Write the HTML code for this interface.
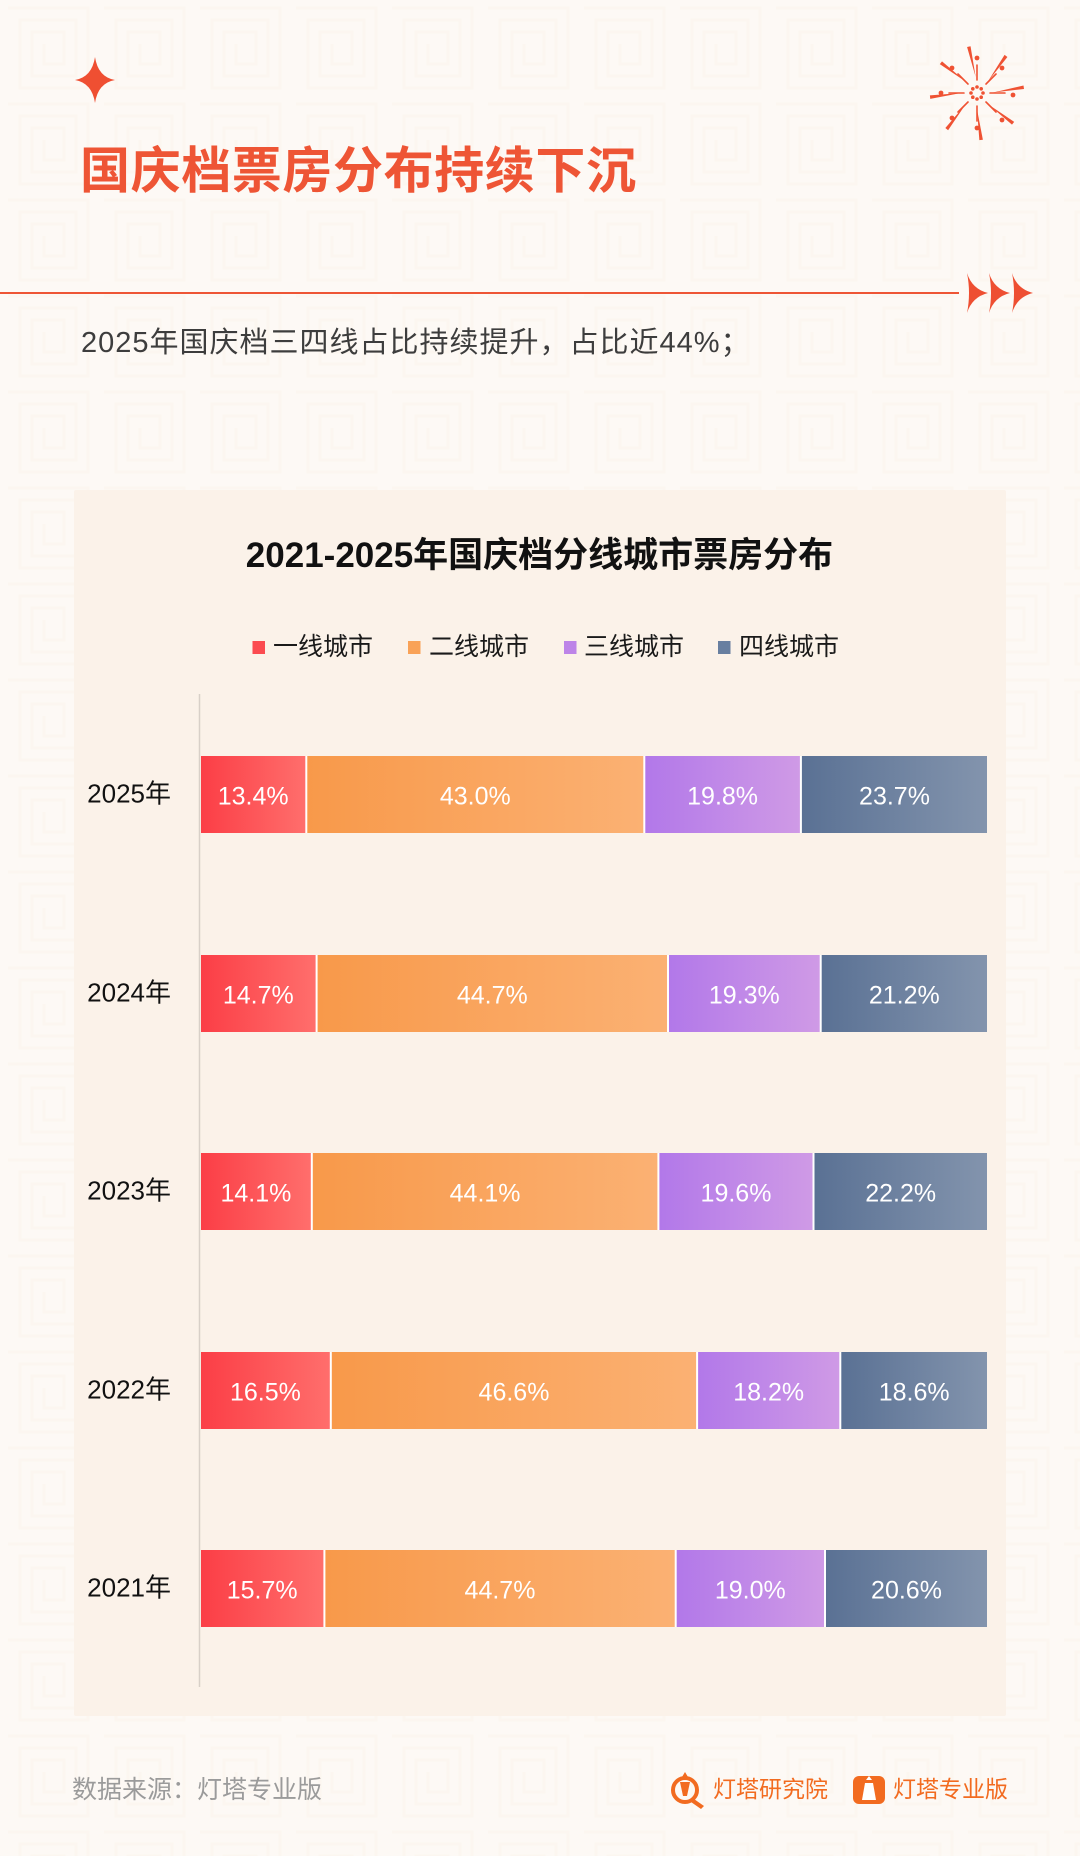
<!DOCTYPE html>
<html>
<head>
<meta charset="utf-8">
<style>
  html,body{margin:0;padding:0;background:#fdf9f5;}
  svg{display:block;}
  text{font-family:"Liberation Sans","Noto Sans CJK SC",sans-serif;}
</style>
</head>
<body>
<svg width="1080" height="1856" viewBox="0 0 1080 1856" xmlns="http://www.w3.org/2000/svg">
  <defs>
    <pattern id="fret" x="0" y="0" width="96" height="96" patternUnits="userSpaceOnUse">
      <path d="M8 8 H88 V88 H20 V20 H76 V76 H32 V32 H64 V64 H44 V44" fill="none" stroke="#fcf6f0" stroke-width="3"/>
    </pattern>
    <linearGradient id="gR" x1="0" x2="1" y1="0" y2="0"><stop offset="0" stop-color="#fb3e46"/><stop offset="1" stop-color="#ff6e6c"/></linearGradient>
    <linearGradient id="gO" x1="0" x2="1" y1="0" y2="0"><stop offset="0" stop-color="#f8994a"/><stop offset="1" stop-color="#fbb173"/></linearGradient>
    <linearGradient id="gP" x1="0" x2="1" y1="0" y2="0"><stop offset="0" stop-color="#b278e9"/><stop offset="1" stop-color="#cf9ae6"/></linearGradient>
    <linearGradient id="gS" x1="0" x2="1" y1="0" y2="0"><stop offset="0" stop-color="#5a7194"/><stop offset="1" stop-color="#8394ad"/></linearGradient>
  </defs>

  <!-- page background -->
  <rect width="1080" height="1856" fill="#fdf9f5"/>
  <rect width="1080" height="1856" fill="url(#fret)"/>

  <!-- sparkle star -->
  <path d="M95,57 Q98,77 115,80 Q98,83 95,103 Q92,83 75,80 Q92,77 95,57Z" fill="#ef4f32"/>

  <!-- fireworks -->
  <g transform="translate(977,93)" fill="#ef5233" stroke="#ef5233">
    <g stroke="none">
      <circle cx="0" cy="-6" r="1.8"/><circle cx="4.2" cy="-4.2" r="1.8"/><circle cx="6" cy="0" r="1.8"/><circle cx="4.2" cy="4.2" r="1.8"/>
      <circle cx="0" cy="6" r="1.8"/><circle cx="-4.2" cy="4.2" r="1.8"/><circle cx="-6" cy="0" r="1.8"/><circle cx="-4.2" cy="-4.2" r="1.8"/>
    </g>
    <g stroke-width="1.6" stroke-linecap="round">
      <line x1="0" y1="-13" x2="0" y2="-28"/>
      <line x1="13" y1="0" x2="28" y2="0"/>
      <line x1="0" y1="13" x2="0" y2="28"/>
      <line x1="-13" y1="0" x2="-28" y2="0"/>
      <line x1="9" y1="-9" x2="19" y2="-19"/>
      <line x1="9" y1="9" x2="19" y2="19"/>
      <line x1="-9" y1="9" x2="-19" y2="19"/>
      <line x1="-9" y1="-9" x2="-19" y2="-19"/>
    </g>
    <g stroke="none">
      <path d="M-0.5,-16 L-4,-47 L-7.5,-46.5 Z" transform="rotate(-3)"/>
      <path d="M-0.5,-16 L-4,-47 L-7.5,-46.5 Z" transform="rotate(45)"/>
      <path d="M-0.5,-16 L-4,-47 L-7.5,-46.5 Z" transform="rotate(90)"/>
      <path d="M-0.5,-16 L-4,-47 L-7.5,-46.5 Z" transform="rotate(137)"/>
      <path d="M-0.5,-16 L-4,-47 L-7.5,-46.5 Z" transform="rotate(182)"/>
      <path d="M-0.5,-16 L-4,-47 L-7.5,-46.5 Z" transform="rotate(227)"/>
      <path d="M-0.5,-16 L-4,-47 L-7.5,-46.5 Z" transform="rotate(272)"/>
      <path d="M-0.5,-16 L-4,-47 L-7.5,-46.5 Z" transform="rotate(317)"/>
      <circle cx="0" cy="-35" r="2.4"/>
      <circle cx="25" cy="-25" r="2.4"/>
      <circle cx="36" cy="2" r="2.4"/>
      <circle cx="25" cy="27" r="2.4"/>
      <circle cx="0" cy="35" r="2.4"/>
      <circle cx="-25" cy="25" r="2.4"/>
      <circle cx="-36" cy="0" r="2.4"/>
      <circle cx="-25" cy="-25" r="2.4"/>
    </g>
  </g>

  <!-- title -->
  <text x="80" y="188" font-size="50" font-weight="700" fill="#ee5535" letter-spacing="0.6">国庆档票房分布持续下沉</text>

  <!-- divider line + arrows -->
  <line x1="0" y1="293" x2="959" y2="293" stroke="#ee5535" stroke-width="2"/>
  <g fill="#ee4f32">
    <path d="M967,273 Q972,289 988,293 Q972,297 967,313 Q971,293 967,273Z"/>
    <path d="M989,273 Q994,289 1010,293 Q994,297 989,313 Q993,293 989,273Z"/>
    <path d="M1012,273 Q1017,289 1033,293 Q1017,297 1012,313 Q1016,293 1012,273Z"/>
  </g>

  <!-- subtitle -->
  <text x="81" y="352" font-size="29" fill="#3d3d3d" letter-spacing="1">2025年国庆档三四线占比持续提升，占比近44%；</text>

  <!-- chart panel -->
  <rect x="74" y="490" width="932" height="1226" rx="2" fill="#fbf2e9"/>

  <text x="539.5" y="567" font-size="35" font-weight="700" fill="#111" text-anchor="middle">2021-2025年国庆档分线城市票房分布</text>

  <!-- legend -->
  <rect x="252.5" y="641" width="12.5" height="13" fill="#fb4b50"/>
  <text x="273" y="655" font-size="25" fill="#1a1a1a">一线城市</text>
  <rect x="408" y="641" width="12.5" height="13" fill="#f9a257"/>
  <text x="429" y="655" font-size="25" fill="#1a1a1a">二线城市</text>
  <rect x="564" y="641" width="12.5" height="13" fill="#bd84e8"/>
  <text x="584" y="655" font-size="25" fill="#1a1a1a">三线城市</text>
  <rect x="718" y="641" width="12.5" height="13" fill="#687fa0"/>
  <text x="739" y="655" font-size="25" fill="#1a1a1a">四线城市</text>

  <!-- axis -->
  <line x1="199.5" y1="694" x2="199.5" y2="1687" stroke="#d8d0c8" stroke-width="1.5"/>

  <!-- 2025 -->
  <g>
    <rect x="201" y="756" width="786" height="77" fill="#ffffff"/>
    <rect x="201" y="756" width="104.3" height="77" fill="url(#gR)"/>
    <rect x="307.3" y="756" width="336" height="77" fill="url(#gO)"/>
    <rect x="645.3" y="756" width="154.6" height="77" fill="url(#gP)"/>
    <rect x="801.9" y="756" width="185.1" height="77" fill="url(#gS)"/>
    <text x="171" y="802.5" font-size="26" fill="#111" text-anchor="end">2025年</text>
    <g font-size="25" fill="#ffffff" text-anchor="middle">
      <text x="253.2" y="804.5">13.4%</text>
      <text x="475.3" y="804.5">43.0%</text>
      <text x="722.6" y="804.5">19.8%</text>
      <text x="894.5" y="804.5">23.7%</text>
    </g>
  </g>
  <!-- 2024 -->
  <g>
    <rect x="201" y="955" width="786" height="77" fill="#ffffff"/>
    <rect x="201" y="955" width="114.6" height="77" fill="url(#gR)"/>
    <rect x="317.6" y="955" width="349.4" height="77" fill="url(#gO)"/>
    <rect x="669" y="955" width="150.7" height="77" fill="url(#gP)"/>
    <rect x="821.7" y="955" width="165.3" height="77" fill="url(#gS)"/>
    <text x="171" y="1001.5" font-size="26" fill="#111" text-anchor="end">2024年</text>
    <g font-size="25" fill="#ffffff" text-anchor="middle">
      <text x="258.3" y="1003.5">14.7%</text>
      <text x="492.3" y="1003.5">44.7%</text>
      <text x="744.3" y="1003.5">19.3%</text>
      <text x="904.3" y="1003.5">21.2%</text>
    </g>
  </g>
  <!-- 2023 -->
  <g>
    <rect x="201" y="1153" width="786" height="77" fill="#ffffff"/>
    <rect x="201" y="1153" width="109.8" height="77" fill="url(#gR)"/>
    <rect x="312.8" y="1153" width="344.6" height="77" fill="url(#gO)"/>
    <rect x="659.4" y="1153" width="153.1" height="77" fill="url(#gP)"/>
    <rect x="814.5" y="1153" width="172.5" height="77" fill="url(#gS)"/>
    <text x="171" y="1199.5" font-size="26" fill="#111" text-anchor="end">2023年</text>
    <g font-size="25" fill="#ffffff" text-anchor="middle">
      <text x="255.9" y="1201.5">14.1%</text>
      <text x="485.1" y="1201.5">44.1%</text>
      <text x="736" y="1201.5">19.6%</text>
      <text x="900.7" y="1201.5">22.2%</text>
    </g>
  </g>
  <!-- 2022 -->
  <g>
    <rect x="201" y="1352" width="786" height="77" fill="#ffffff"/>
    <rect x="201" y="1352" width="128.8" height="77" fill="url(#gR)"/>
    <rect x="331.8" y="1352" width="364.3" height="77" fill="url(#gO)"/>
    <rect x="698.1" y="1352" width="141.2" height="77" fill="url(#gP)"/>
    <rect x="841.3" y="1352" width="145.7" height="77" fill="url(#gS)"/>
    <text x="171" y="1398.5" font-size="26" fill="#111" text-anchor="end">2022年</text>
    <g font-size="25" fill="#ffffff" text-anchor="middle">
      <text x="265.4" y="1400.5">16.5%</text>
      <text x="514" y="1400.5">46.6%</text>
      <text x="768.7" y="1400.5">18.2%</text>
      <text x="914.2" y="1400.5">18.6%</text>
    </g>
  </g>
  <!-- 2021 -->
  <g>
    <rect x="201" y="1550" width="786" height="77" fill="#ffffff"/>
    <rect x="201" y="1550" width="122.4" height="77" fill="url(#gR)"/>
    <rect x="325.4" y="1550" width="349.3" height="77" fill="url(#gO)"/>
    <rect x="676.7" y="1550" width="147.3" height="77" fill="url(#gP)"/>
    <rect x="826" y="1550" width="161" height="77" fill="url(#gS)"/>
    <text x="171" y="1596.5" font-size="26" fill="#111" text-anchor="end">2021年</text>
    <g font-size="25" fill="#ffffff" text-anchor="middle">
      <text x="262.2" y="1598.5">15.7%</text>
      <text x="500" y="1598.5">44.7%</text>
      <text x="750.3" y="1598.5">19.0%</text>
      <text x="906.5" y="1598.5">20.6%</text>
    </g>
  </g>

  <!-- footer -->
  <text x="72" y="1798" font-size="25" fill="#9b9b9b">数据来源：灯塔专业版</text>

  <!-- logo 1 -->
  <g fill="#f26b20">
    <circle cx="685" cy="1790" r="12" fill="none" stroke="#f26b20" stroke-width="4"/>
    <path d="M694,1799 L704,1806 L701,1809 L691,1802Z"/>
    <path d="M680,1782 L690,1782 L687,1796 L683,1796Z"/>
    <path d="M682,1777 L688,1777 L685,1772Z"/>
  </g>
  <text x="713" y="1797" font-size="23" fill="#f26b20">灯塔研究院</text>

  <!-- logo 2 -->
  <rect x="853" y="1776" width="32" height="28" rx="6" fill="#f26b20"/>
  <path d="M865,1783 L873,1783 L876,1800 L862,1800Z" fill="#ffffff"/>
  <path d="M866,1780 L872,1780 L869,1776Z" fill="#ffffff"/>
  <text x="893" y="1797" font-size="23" fill="#f26b20">灯塔专业版</text>
</svg>
</body>
</html>
